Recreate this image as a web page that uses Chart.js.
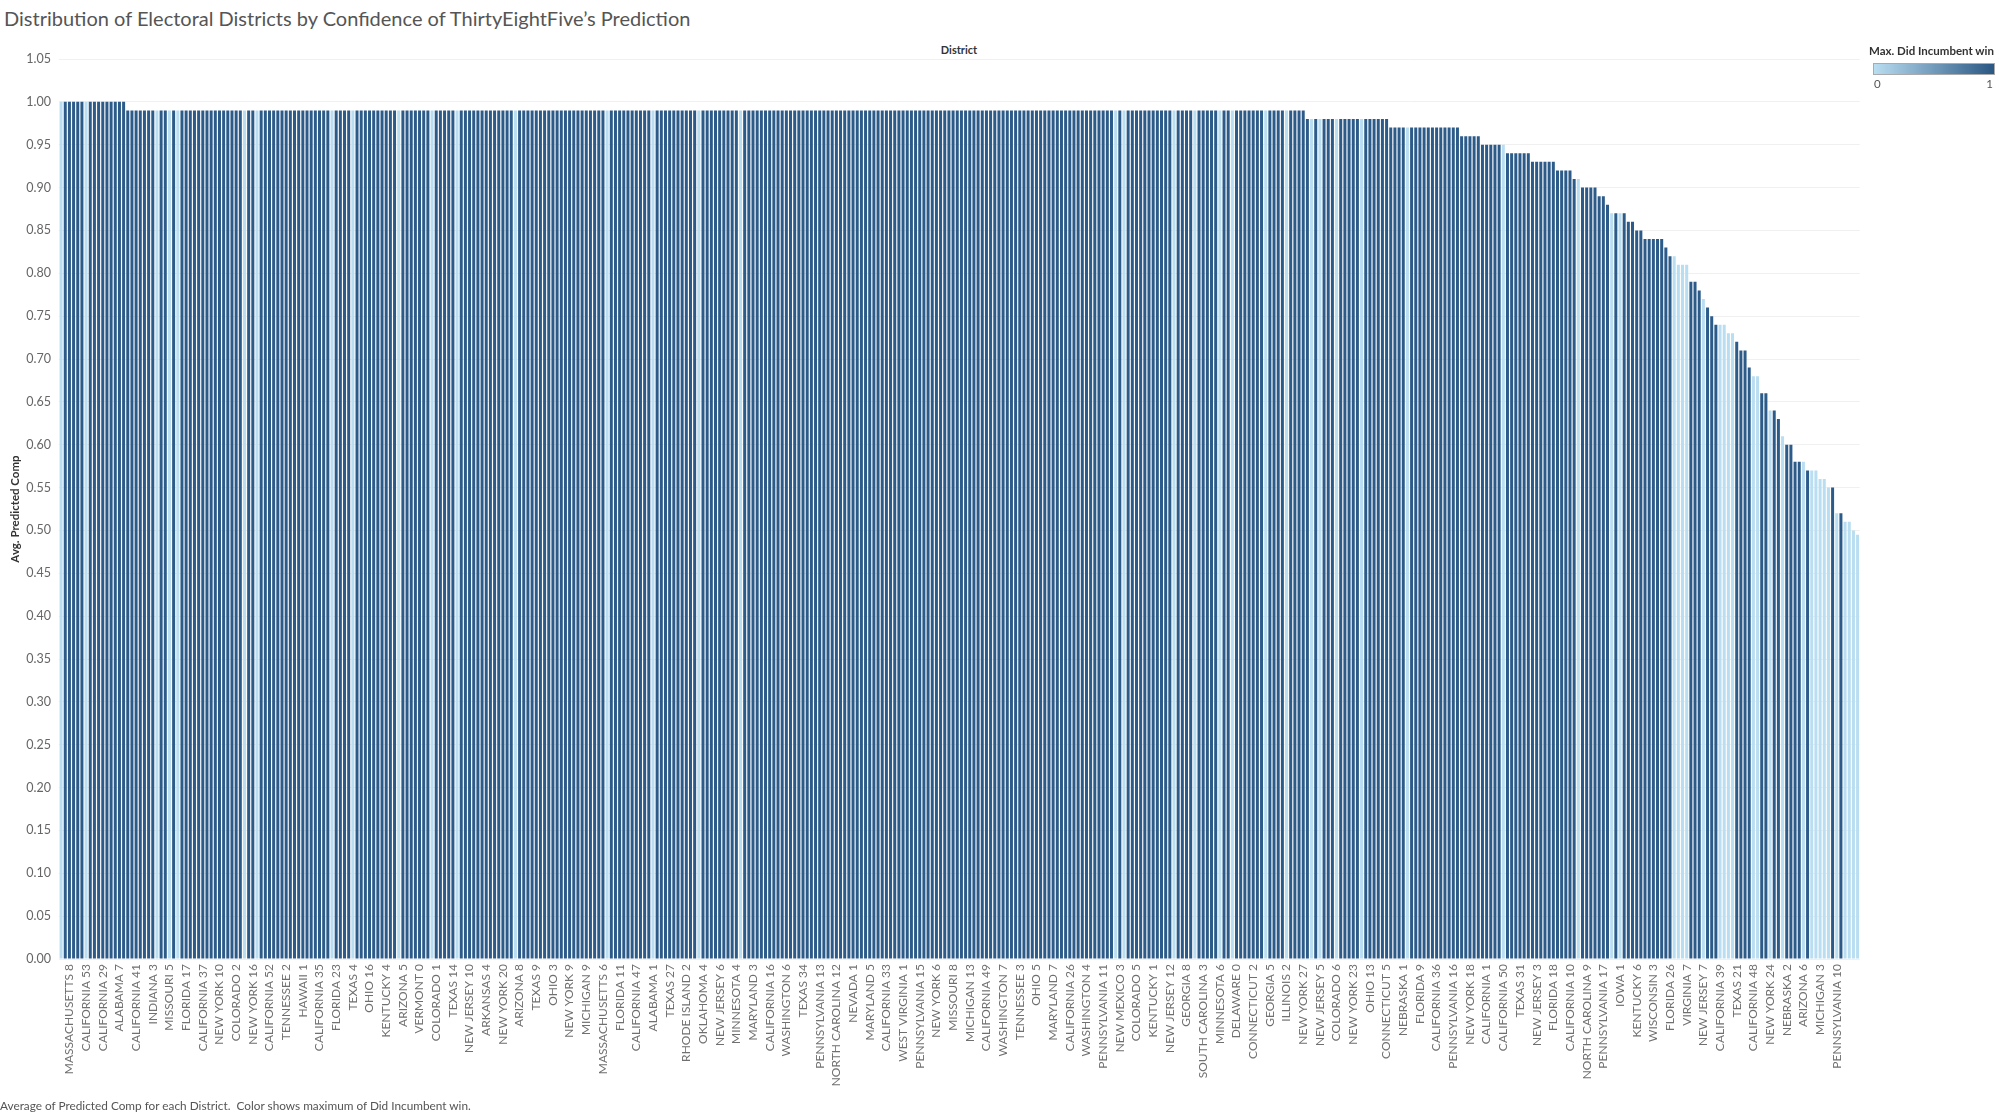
<!DOCTYPE html>
<html lang="en">
<head>
    <meta charset="UTF-8">
    <title>Distribution of Electoral Districts</title>
    <script src="https://cdn.jsdelivr.net/npm/chart.js"></script>
    <style>
        body { margin: 0; width: 1999px; height: 1114px; overflow: hidden; background: #fff; font-family: Lato, "Noto Sans", sans-serif; position: relative; }
        #title { position: absolute; left: 4px; top: 6px; font-size: 20px; color: #555; white-space: nowrap; }
        #xTitle { position: absolute; left: 959px; top: 43px; transform: translateX(-50%); font-size: 11px; font-weight: bold; color: #333; }
        #chartBox { position: absolute; left: 0; top: 0; width: 1877px; height: 1114px; }
        #legend { position: absolute; left: 1869px; top: 44px; width: 130px; font-size: 11.5px; color: #555; }
        #legend .head { font-weight: bold; color: #333; white-space: nowrap; }
        #legend .ramp { margin: 6px 0 0 4px; width: 122px; height: 12px; border: 1px solid #aaa; box-sizing: border-box; background: linear-gradient(to right, #b9ddf1, #2a5783); }
        #legend .ends { margin: 2px 0 0 5px; width: 119px; display: flex; justify-content: space-between; }
        #footer { position: absolute; left: 0; top: 1098px; font-size: 11.8px; color: #555; white-space: nowrap; }
    </style>
</head>
<body>
    <div id="title">Distribution of Electoral Districts by Confidence of ThirtyEightFive’s Prediction</div>
    <div id="xTitle">District</div>
    <div id="chartBox"><canvas id="districtChart"></canvas></div>
    <div id="legend">
        <div class="head">Max. Did Incumbent win</div>
        <div class="ramp"></div>
        <div class="ends"><span>0</span><span>1</span></div>
    </div>
    <div id="footer">Average of Predicted Comp for each District.&nbsp; Color shows maximum of Did Incumbent win.</div>

    <script>
        // labelled districts (only every 4th bar carries a label in the original)
        const labelledDistricts = ['MASSACHUSETTS 8', 'CALIFORNIA 53', 'CALIFORNIA 29', 'ALABAMA 7', 'CALIFORNIA 41', 'INDIANA 3', 'MISSOURI 5',
            'FLORIDA 17', 'CALIFORNIA 37', 'NEW YORK 10', 'COLORADO 2', 'NEW YORK 16', 'CALIFORNIA 52', 'TENNESSEE 2', 'HAWAII 1',
            'CALIFORNIA 35', 'FLORIDA 23', 'TEXAS 4', 'OHIO 16', 'KENTUCKY 4', 'ARIZONA 5', 'VERMONT 0', 'COLORADO 1', 'TEXAS 14',
            'NEW JERSEY 10', 'ARKANSAS 4', 'NEW YORK 20', 'ARIZONA 8', 'TEXAS 9', 'OHIO 3', 'NEW YORK 9', 'MICHIGAN 9',
            'MASSACHUSETTS 6', 'FLORIDA 11', 'CALIFORNIA 47', 'ALABAMA 1', 'TEXAS 27', 'RHODE ISLAND 2', 'OKLAHOMA 4', 'NEW JERSEY 6',
            'MINNESOTA 4', 'MARYLAND 3', 'CALIFORNIA 16', 'WASHINGTON 6', 'TEXAS 34', 'PENNSYLVANIA 13', 'NORTH CAROLINA 12',
            'NEVADA 1', 'MARYLAND 5', 'CALIFORNIA 33', 'WEST VIRGINIA 1', 'PENNSYLVANIA 15', 'NEW YORK 6', 'MISSOURI 8',
            'MICHIGAN 13', 'CALIFORNIA 49', 'WASHINGTON 7', 'TENNESSEE 3', 'OHIO 5', 'MARYLAND 7', 'CALIFORNIA 26', 'WASHINGTON 4',
            'PENNSYLVANIA 11', 'NEW MEXICO 3', 'COLORADO 5', 'KENTUCKY 1', 'NEW JERSEY 12', 'GEORGIA 8', 'SOUTH CAROLINA 3',
            'MINNESOTA 6', 'DELAWARE 0', 'CONNECTICUT 2', 'GEORGIA 5', 'ILLINOIS 2', 'NEW YORK 27', 'NEW JERSEY 5', 'COLORADO 6',
            'NEW YORK 23', 'OHIO 13', 'CONNECTICUT 5', 'NEBRASKA 1', 'FLORIDA 9', 'CALIFORNIA 36', 'PENNSYLVANIA 16', 'NEW YORK 18',
            'CALIFORNIA 1', 'CALIFORNIA 50', 'TEXAS 31', 'NEW JERSEY 3', 'FLORIDA 18', 'CALIFORNIA 10', 'NORTH CAROLINA 9',
            'PENNSYLVANIA 17', 'IOWA 1', 'KENTUCKY 6', 'WISCONSIN 3', 'FLORIDA 26', 'VIRGINIA 7', 'NEW JERSEY 7', 'CALIFORNIA 39',
            'TEXAS 21', 'CALIFORNIA 48', 'NEW YORK 24', 'NEBRASKA 2', 'ARIZONA 6', 'MICHIGAN 3', 'PENNSYLVANIA 10'];

        // avg predicted comp: value and how many bars share it
        const compValues = [1.00, 0.99, 0.98, 0.97, 0.96, 0.95, 0.94, 0.93, 0.92, 0.91, 0.90, 0.89, 0.88, 0.87, 0.86, 0.85,
            0.84, 0.83, 0.82, 0.81, 0.79, 0.78, 0.77, 0.76, 0.75, 0.74, 0.73, 0.72, 0.71, 0.69, 0.68, 0.66, 0.64, 0.63, 0.61,
            0.60, 0.58, 0.57, 0.56, 0.55, 0.52, 0.51, 0.50, 0.495];
        const compCounts = [16, 283, 20, 17, 5, 6, 6, 6, 4, 2, 4, 2, 1, 4, 2, 2,
            5, 1, 2, 3, 2, 1, 1, 1, 1, 3, 2, 1, 2, 1, 2, 2, 2, 1, 1,
            2, 3, 3, 2, 2, 2, 2, 1, 1];

        // bar positions where the incumbent did not win (light bars)
        const incumbentLost = [0, 6, 23, 26, 28, 44, 47, 65, 70, 81, 89, 95, 109, 131, 142, 153, 163,
            253, 255, 267, 272, 278, 281, 289, 294, 300, 302, 306, 312, 323, 346, 364, 372, 374,
            387, 388, 389, 390, 394, 398, 399, 400, 401, 406, 407, 410, 413, 418, 420, 421, 422, 423,
            424, 426, 428, 429, 430, 431];

        const yTicks = { min: 0, max: 1.05, step: 0.05 };

        const values = [];
        compValues.forEach((v, k) => { for (let n = 0; n < compCounts[k]; n++) values.push(v); });
        const labels = values.map((v, i) => (i % 4 === 2 && labelledDistricts[(i - 2) / 4]) ? labelledDistricts[(i - 2) / 4] : '');
        const lostSet = new Set(incumbentLost);
        const colors = values.map((v, i) => lostSet.has(i) ? '#b9ddf1' : '#2c5b89');

        new Chart(document.getElementById('districtChart'), {
            type: 'bar',
            data: {
                labels: labels,
                datasets: [{
                    label: 'Avg. Predicted Comp',
                    data: values,
                    backgroundColor: colors,
                    barPercentage: 0.72,
                    categoryPercentage: 1.0
                }]
            },
            options: {
                responsive: true,
                maintainAspectRatio: false,
                animation: false,
                layout: { padding: { top: 59, right: 2, bottom: 0, left: 0 } },
                plugins: { legend: { display: false }, tooltip: { enabled: false } },
                scales: {
                    x: {
                        grid: { display: false, drawTicks: false },
                        border: { display: false },
                        afterFit: s => { s.height = 155; },
                        ticks: {
                            autoSkip: false, maxRotation: 90, minRotation: 90, padding: 5,
                            color: '#707070', font: { family: 'Lato', size: 12 }
                        }
                    },
                    y: {
                        min: yTicks.min, max: yTicks.max,
                        afterFit: s => { s.width = 59; },
                        grid: { color: '#f0f0f0', drawTicks: false },
                        border: { display: false },
                        ticks: {
                            stepSize: yTicks.step, padding: 8, color: '#666',
                            font: { family: 'Lato', size: 12.5 },
                            callback: v => v.toFixed(2)
                        },
                        title: {
                            display: true, text: 'Avg. Predicted Comp', color: '#333',
                            font: { family: 'Lato', size: 11.5, weight: 'bold' },
                            padding: { top: 8, bottom: 0 }
                        }
                    }
                }
            }
        });
    </script>
</body>
</html>
